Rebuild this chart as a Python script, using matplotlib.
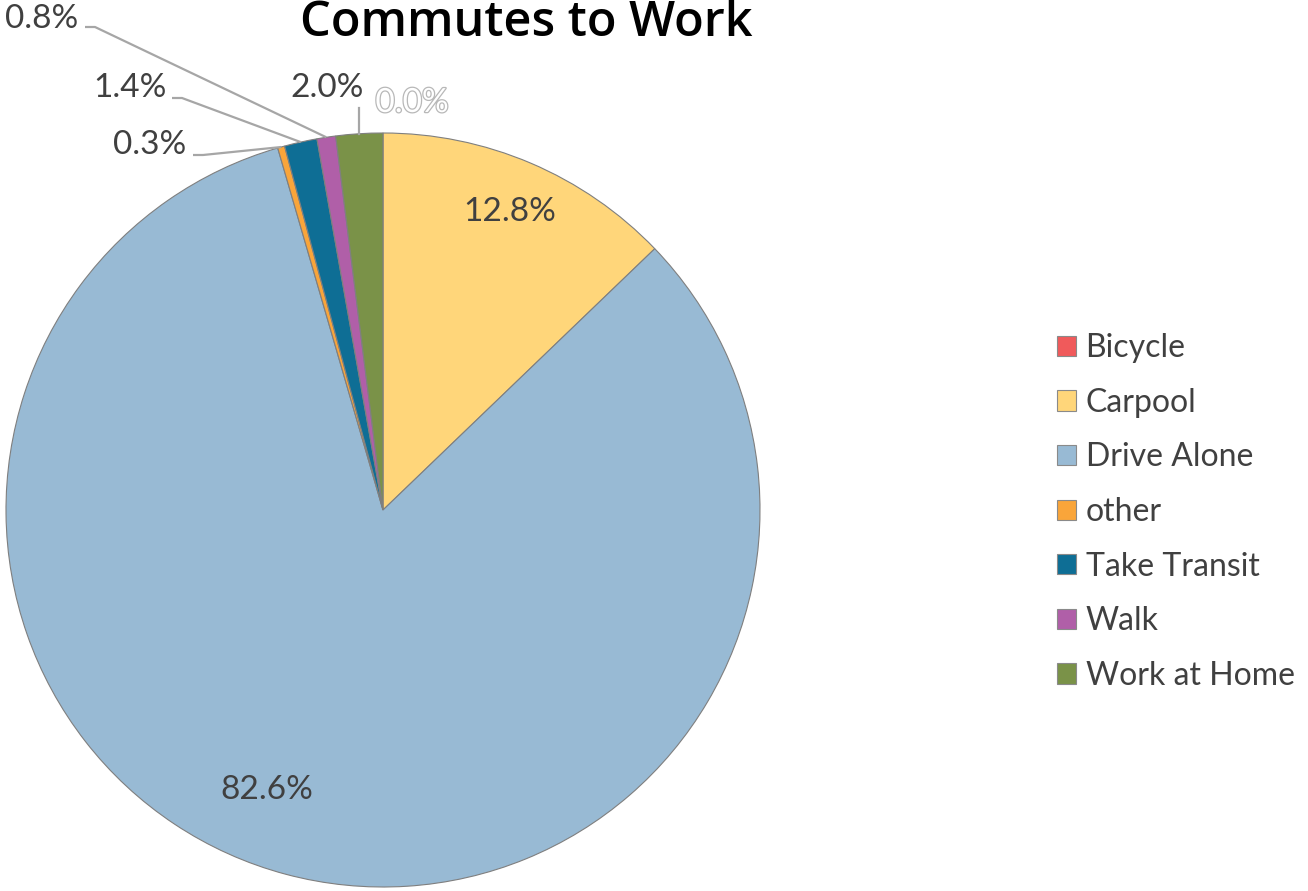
import matplotlib
matplotlib.use("Agg")
import matplotlib.pyplot as plt
import matplotlib.patheffects as pe
import numpy as np

categories = ["Bicycle", "Carpool", "Drive Alone", "other", "Take Transit", "Walk", "Work at Home"]
shares = [0.0, 12.8, 82.6, 0.3, 1.4, 0.8, 2.0]
colors = ["#F05A5B", "#FFD67A", "#98BAD4", "#F9A53A", "#0E6E95", "#B05FA8", "#7A9248"]
title = "Commutes to Work"

W, H = 1308, 891
CX, CY, R = 383, 510, 377  # pie centre / radius in pixels

plt.rcParams["font.family"] = ["Lato", "DejaVu Sans"]

fig = plt.figure(figsize=(W / 100, H / 100), dpi=100)
ax = fig.add_axes([0, 0, 1, 1])
ax.axis("off")


def px(x, y):
    """Pixel position -> data coordinates (pie radius = 1)."""
    return (x - CX) / R, (CY - y) / R


wedges, _ = ax.pie(
    shares, colors=colors, startangle=90, counterclock=False, radius=1,
    wedgeprops=dict(edgecolor="#7f7f7f", linewidth=0.8),
)
ax.set_xlim(-CX / R, (W - CX) / R)
ax.set_ylim((CY - H) / R, CY / R)
ax.set_aspect("auto")

total = sum(shares)
cum = np.cumsum([0] + shares)
mid_frac = [(cum[i] + cum[i + 1]) / 2 / total for i in range(len(shares))]


def edge_point(i, k=1.0):
    ang = np.deg2rad(90 - 360 * mid_frac[i])
    return k * np.cos(ang), k * np.sin(ang)


txt_color = "#404040"
line_color = "#a6a6a6"
label_fs = 24

# inside labels
inside = {1: (510, 212), 2: (267, 790)}
for i, (x, y) in inside.items():
    ax.text(*px(x, y), f"{shares[i]:.1f}%", ha="center", va="center",
            fontsize=label_fs, color=txt_color)

# outside labels with leader lines: (text centre, elbow start, elbow end)
outside = {
    3: ((150, 145), (193, 155), (203, 155)),
    4: ((130, 88), (172, 98), (182, 98)),
    5: ((42, 19), (85, 27), (95, 27)),
}
for i, (tpos, p0, p1) in outside.items():
    ax.text(*px(*tpos), f"{shares[i]:.1f}%", ha="center", va="center",
            fontsize=label_fs, color=txt_color)
    ex, ey = edge_point(i, 1.0)
    xs = [px(*p0)[0], px(*p1)[0], ex]
    ys = [px(*p0)[1], px(*p1)[1], ey]
    ax.plot(xs, ys, color=line_color, lw=1.6, solid_capstyle="butt")

# Work at Home label with vertical leader
ax.text(*px(327, 88), f"{shares[6]:.1f}%", ha="center", va="center",
        fontsize=label_fs, color=txt_color)
ex, ey = edge_point(6, 1.0)
ax.plot([ex, ex], [px(0, 108)[1], ey], color=line_color, lw=1.6)

# Bicycle label (hollow text)
ax.text(*px(412, 103), f"{shares[0]:.1f}%", ha="center", va="center",
        fontsize=label_fs, color="white",
        path_effects=[pe.Stroke(linewidth=1.8, foreground="#b8b8b8"), pe.Normal()])

# title
ax.text(*px(526, 36), title, ha="center", va="baseline", fontsize=35,
        fontweight="semibold", color="#000000", family=["Open Sans", "DejaVu Sans"])

# legend
leg = fig.legend(
    wedges, categories, loc="center left", bbox_to_anchor=(1028 / W, 1 - 512 / H),
    frameon=False, fontsize=23, labelcolor="#404040",
    handlelength=0.6, handleheight=0.6, handletextpad=0.3, labelspacing=0.77,
)
for h in leg.legend_handles:
    h.set_edgecolor("#8a8a8a")
    h.set_linewidth(0.8)

fig.savefig("out.png", dpi=100)
